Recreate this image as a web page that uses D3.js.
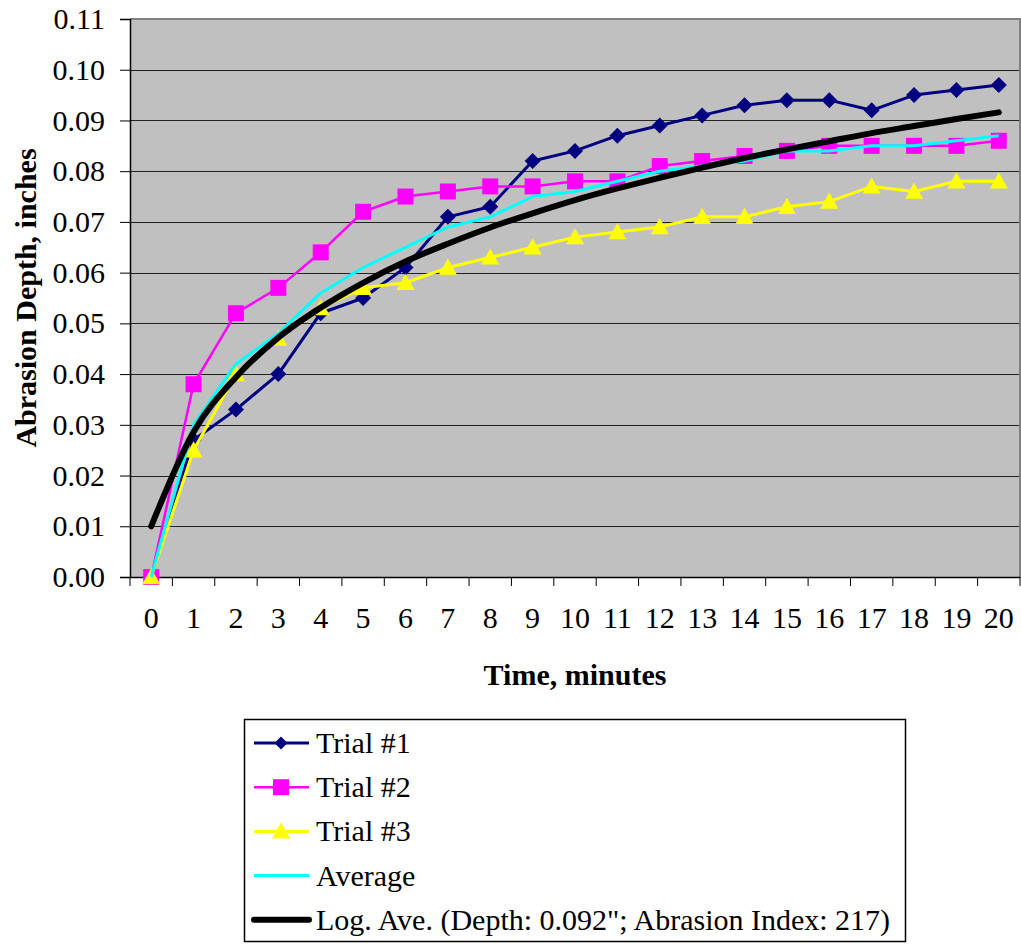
<!DOCTYPE html>
<html>
<head>
<meta charset="utf-8">
<script src="https://cdn.jsdelivr.net/npm/d3@7"></script>
<style>
  body { margin: 0; background: #fff; }
  svg text { font-family: "Liberation Serif", "Times New Roman", "DejaVu Serif", serif; }
</style>
</head>
<body>
<div id="chart"></div>
<script>
// data
const minutes = ["0","1","2","3","4","5","6","7","8","9","10","11","12","13","14","15","16","17","18","19","20"];
const trial1 = [0, 0.027, 0.033, 0.040, 0.052, 0.055, 0.061, 0.071, 0.073, 0.082, 0.084, 0.087, 0.089, 0.091, 0.093, 0.094, 0.094, 0.092, 0.095, 0.096, 0.097];
const trial2 = [0, 0.038, 0.052, 0.057, 0.064, 0.072, 0.075, 0.076, 0.077, 0.077, 0.078, 0.078, 0.081, 0.082, 0.083, 0.084, 0.085, 0.085, 0.085, 0.085, 0.086];
const trial3 = [0, 0.025, 0.040, 0.047, 0.053, 0.057, 0.058, 0.061, 0.063, 0.065, 0.067, 0.068, 0.069, 0.071, 0.071, 0.073, 0.074, 0.077, 0.076, 0.078, 0.078];
const average = [0, 0.030, 0.042, 0.048, 0.056, 0.061, 0.065, 0.069, 0.071, 0.075, 0.076, 0.078, 0.080, 0.081, 0.082, 0.084, 0.084, 0.085, 0.085, 0.086, 0.087];
const logAve = [0.0100, 0.0286, 0.0394, 0.0472, 0.0531, 0.0580, 0.0622, 0.0657, 0.0689, 0.0717, 0.0743, 0.0766, 0.0787, 0.0807, 0.0826, 0.0843, 0.0859, 0.0875, 0.0889, 0.0903, 0.0916];
const yTicks = [0, 0.01, 0.02, 0.03, 0.04, 0.05, 0.06, 0.07, 0.08, 0.09, 0.10, 0.11];
const seriesNames = ["Trial #1", "Trial #2", "Trial #3", "Average", "Log. Ave. (Depth: 0.092\"; Abrasion Index: 217)"];

const width = 1021, height = 944;
const plot = {left: 130, right: 1020, top: 19, bottom: 577};
const font = "30px";

const svg = d3.select("#chart").append("svg")
    .attr("width", width)
    .attr("height", height);

const x = d3.scaleBand().domain(minutes).range([plot.left, plot.right]).padding(0);
const y = d3.scaleLinear().domain([0, 0.11]).range([plot.bottom, plot.top]);
const cx = d => x(d) + x.bandwidth() / 2;

// plot background
svg.append("rect")
    .attr("x", plot.left).attr("y", plot.top)
    .attr("width", plot.right - plot.left).attr("height", plot.bottom - plot.top)
    .attr("fill", "#c0c0c0");

// gridlines
svg.append("g").selectAll("line")
    .data(yTicks.filter(t => t > 0 && t < 0.11))
    .join("line")
    .attr("x1", plot.left).attr("x2", plot.right)
    .attr("y1", d => Math.round(y(d)) + 0.5).attr("y2", d => Math.round(y(d)) + 0.5)
    .attr("stroke", "#222").attr("stroke-width", 1.2);

// top + right frame
svg.append("path")
    .attr("d", `M${plot.left},${plot.top}H${plot.right}V${plot.bottom}`)
    .attr("fill", "none").attr("stroke", "#808080").attr("stroke-width", 2);

// y axis
const yAxis = svg.append("g")
    .attr("transform", `translate(${plot.left},0)`)
    .call(d3.axisLeft(y).tickValues(yTicks).tickFormat(d3.format(".2f")).tickSize(10).tickPadding(15));
yAxis.attr("font-family", null);
yAxis.select(".domain").attr("stroke", "#000").attr("stroke-width", 1.5);
yAxis.selectAll("text").style("font-size", font).attr("fill", "#000");

// x axis: ticks at category boundaries, labels centered
const xAxis = svg.append("g")
    .attr("transform", `translate(0,${plot.bottom})`)
    .call(d3.axisBottom(x).tickSize(0).tickPadding(30));
xAxis.attr("font-family", null);
xAxis.select(".domain").attr("stroke", "#000").attr("stroke-width", 1.5);
xAxis.selectAll("text").style("font-size", font).attr("fill", "#000");
xAxis.append("g").selectAll("line")
    .data(minutes.concat(["end"]))
    .join("line")
    .attr("x1", (d, i) => plot.left + i * x.bandwidth())
    .attr("x2", (d, i) => plot.left + i * x.bandwidth())
    .attr("y1", 0).attr("y2", 9)
    .attr("stroke", "#000").attr("stroke-width", 1);

// axis titles
svg.append("text")
    .attr("transform", "translate(36,298) rotate(-90)")
    .attr("text-anchor", "middle")
    .style("font-size", font).style("font-weight", "bold")
    .text("Abrasion Depth, inches");
svg.append("text")
    .attr("x", 575).attr("y", 685)
    .attr("text-anchor", "middle")
    .style("font-size", font).style("font-weight", "bold")
    .text("Time, minutes");

// marker shapes
function marker(kind, s) {
    if (kind === "diamond") return `M0,${-s}L${s},0L0,${s}L${-s},0Z`;
    if (kind === "square") return `M${-s},${-s}H${s}V${s}H${-s}Z`;
    if (kind === "triangle") return `M0,${-s}L${s},${s * 0.8}H${-s}Z`;
    return null;
}

const series = [
    {name: seriesNames[0], values: trial1, color: "#000080", width: 3, mark: "diamond", ms: 8, lms: 6.5},
    {name: seriesNames[1], values: trial2, color: "#ff00ff", width: 2.5, mark: "square", ms: 8, lms: 8},
    {name: seriesNames[2], values: trial3, color: "#ffff00", width: 3, mark: "triangle", ms: 9, lms: 9},
    {name: seriesNames[3], values: average, color: "#00ffff", width: 3, mark: null},
];

const line = d3.line().x((d, i) => cx(minutes[i])).y(d => y(d));

series.forEach(s => {
    const g = svg.append("g");
    g.append("path")
        .attr("d", line(s.values))
        .attr("fill", "none").attr("stroke", s.color).attr("stroke-width", s.width)
        .attr("stroke-linejoin", "round");
    if (s.mark) {
        g.selectAll("path.m")
            .data(s.values)
            .join("path")
            .attr("class", "m")
            .attr("transform", (d, i) => `translate(${cx(minutes[i])},${y(d)})`)
            .attr("d", marker(s.mark, s.ms))
            .attr("fill", s.color);
    }
});

// logarithmic trend of average
svg.append("path")
    .attr("d", d3.line().x((d, i) => cx(minutes[i])).y(d => y(d)).curve(d3.curveMonotoneX)(logAve))
    .attr("fill", "none").attr("stroke", "#000").attr("stroke-width", 6)
    .attr("stroke-linecap", "round");

// legend
const legend = svg.append("g");
legend.append("rect")
    .attr("x", 244.5).attr("y", 719.5).attr("width", 661).attr("height", 222)
    .attr("fill", "#fff").attr("stroke", "#000").attr("stroke-width", 1.5);

const legendItems = series.concat([{name: seriesNames[4], color: "#000", width: 6, mark: null, cap: "round"}]);
const item = legend.selectAll("g.item")
    .data(legendItems)
    .join("g")
    .attr("class", "item")
    .attr("transform", (d, i) => `translate(0,${743 + i * 44.2})`);
item.append("line")
    .attr("x1", 254).attr("x2", 309).attr("y1", 0).attr("y2", 0)
    .attr("stroke", d => d.color).attr("stroke-width", d => d.width)
    .attr("stroke-linecap", d => d.cap || "butt");
item.filter(d => d.mark)
    .append("path")
    .attr("transform", "translate(281,0)")
    .attr("d", d => marker(d.mark, d.lms))
    .attr("fill", d => d.color);
item.append("text")
    .attr("x", 316).attr("y", 10)
    .style("font-size", font)
    .text(d => d.name);
</script>
</body>
</html>
